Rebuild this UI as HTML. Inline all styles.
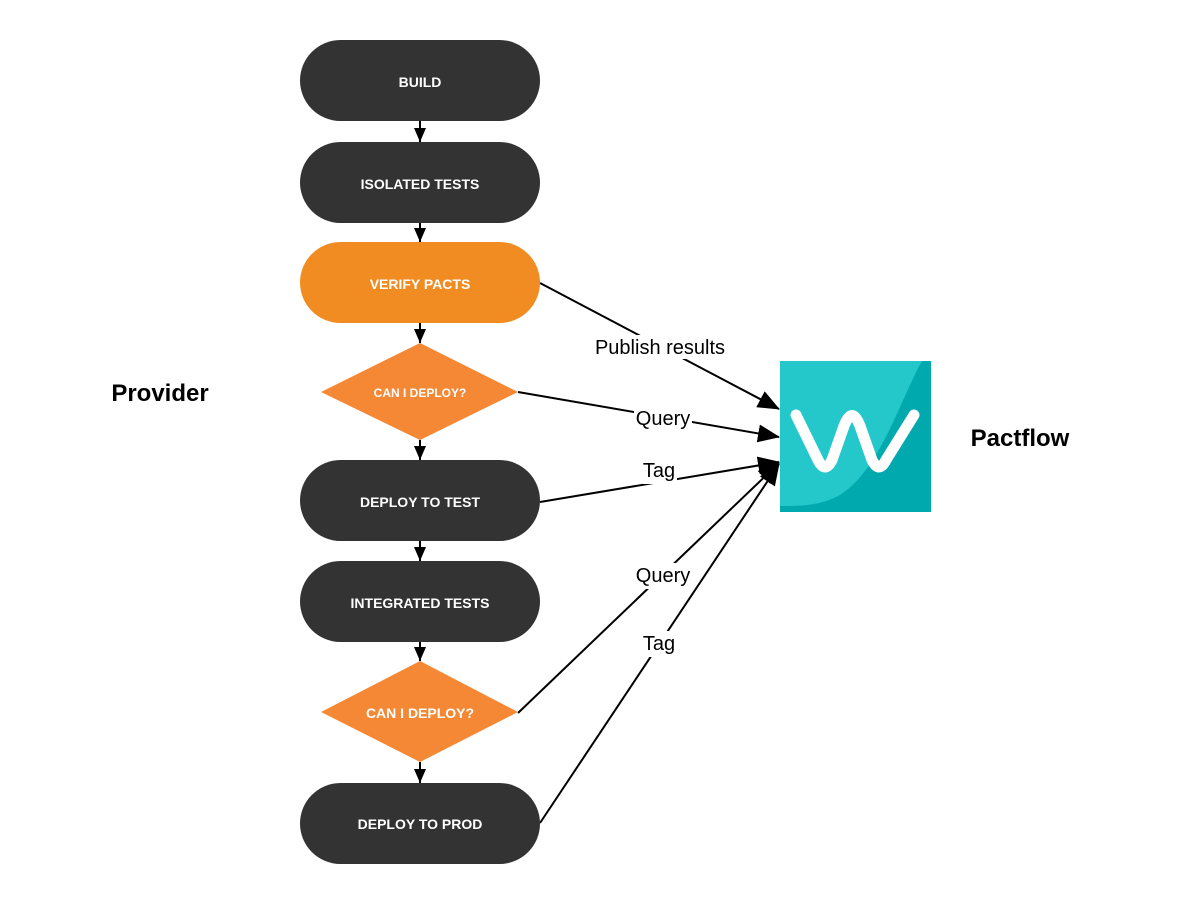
<!DOCTYPE html>
<html><head><meta charset="utf-8"><style>
html,body{margin:0;padding:0;background:#fff;}
svg{display:block;}
text{font-family:"Liberation Sans",sans-serif;}
</style></head><body>
<svg width="1180" height="904" viewBox="0 0 1180 904" xmlns="http://www.w3.org/2000/svg">
<defs>
<marker id="a" markerWidth="12" markerHeight="14" refX="14" refY="6" orient="auto" markerUnits="userSpaceOnUse"><path d="M0,0 L14,6 L0,12 z" fill="#000"/></marker>
<marker id="b" markerWidth="22" markerHeight="18" refX="21" refY="9" orient="auto" markerUnits="userSpaceOnUse"><path d="M0,0 L22,9 L0,18 z" fill="#000"/></marker>
</defs>
<g stroke="#000" stroke-width="2" fill="none">
<line x1="420" y1="121" x2="420" y2="142" marker-end="url(#a)"/>
<line x1="420" y1="223" x2="420" y2="242" marker-end="url(#a)"/>
<line x1="420" y1="323" x2="420" y2="343" marker-end="url(#a)"/>
<line x1="420" y1="440" x2="420" y2="460" marker-end="url(#a)"/>
<line x1="420" y1="541" x2="420" y2="561" marker-end="url(#a)"/>
<line x1="420" y1="642" x2="420" y2="661" marker-end="url(#a)"/>
<line x1="420" y1="762" x2="420" y2="783" marker-end="url(#a)"/>
<line x1="540" y1="283" x2="779" y2="409" marker-end="url(#b)"/>
<line x1="518" y1="392" x2="779" y2="437" marker-end="url(#b)"/>
<line x1="540" y1="502" x2="779" y2="462" marker-end="url(#b)"/>
<line x1="518" y1="713" x2="779" y2="463" marker-end="url(#b)"/>
<line x1="540" y1="823" x2="779" y2="464" marker-end="url(#b)"/>
</g>
<g fill="#fff">
<rect x="590" y="335" width="140" height="24"/>
<rect x="634" y="407" width="58" height="24"/>
<rect x="643" y="458" width="34" height="26"/>
<rect x="634" y="563" width="58" height="26"/>
<rect x="643" y="631" width="34" height="26"/>
</g>
<g font-size="20" fill="#000" text-anchor="middle">
<text x="660" y="354">Publish results</text>
<text x="663" y="425">Query</text>
<text x="659" y="477">Tag</text>
<text x="663" y="582">Query</text>
<text x="659" y="650">Tag</text>
</g>
<g fill="#333">
<rect x="300" y="40" width="240" height="81" rx="40.5"/>
<rect x="300" y="142" width="240" height="81" rx="40.5"/>
<rect x="300" y="460" width="240" height="81" rx="40.5"/>
<rect x="300" y="561" width="240" height="81" rx="40.5"/>
<rect x="300" y="783" width="240" height="81" rx="40.5"/>
</g>
<rect x="300" y="242" width="240" height="81" rx="40.5" fill="#f08c22"/>
<polygon points="420,343 518,392 420,440 321,392" fill="#f58835"/>
<polygon points="420,661 518,712 420,762 321,712" fill="#f58835"/>
<g fill="#fff" font-weight="bold" font-size="14" text-anchor="middle">
<text x="420" y="87">BUILD</text>
<text x="420" y="189">ISOLATED TESTS</text>
<text x="420" y="289">VERIFY PACTS</text>
<text x="420" y="397" font-size="12">CAN I DEPLOY?</text>
<text x="420" y="507">DEPLOY TO TEST</text>
<text x="420" y="608">INTEGRATED TESTS</text>
<text x="420" y="718">CAN I DEPLOY?</text>
<text x="420" y="829">DEPLOY TO PROD</text>
</g>
<text x="160" y="401" font-size="24" font-weight="bold" text-anchor="middle">Provider</text>
<text x="1020" y="446" font-size="24" font-weight="bold" text-anchor="middle">Pactflow</text>
<rect x="780" y="361" width="151" height="151" fill="#00a9ad"/>
<path d="M780,361 L922,361 C900,400 880,470 840,495 C820,506 800,506 780,506 Z" fill="#24c8ca"/>
<path d="M796,415 L818,460 Q825,474 832,460 L844,426 Q852,405 860,426 L872,460 Q879,474 886,460 L914,415" stroke="#fff" stroke-width="11" fill="none" stroke-linecap="round" stroke-linejoin="round"/>
</svg>
</body></html>
